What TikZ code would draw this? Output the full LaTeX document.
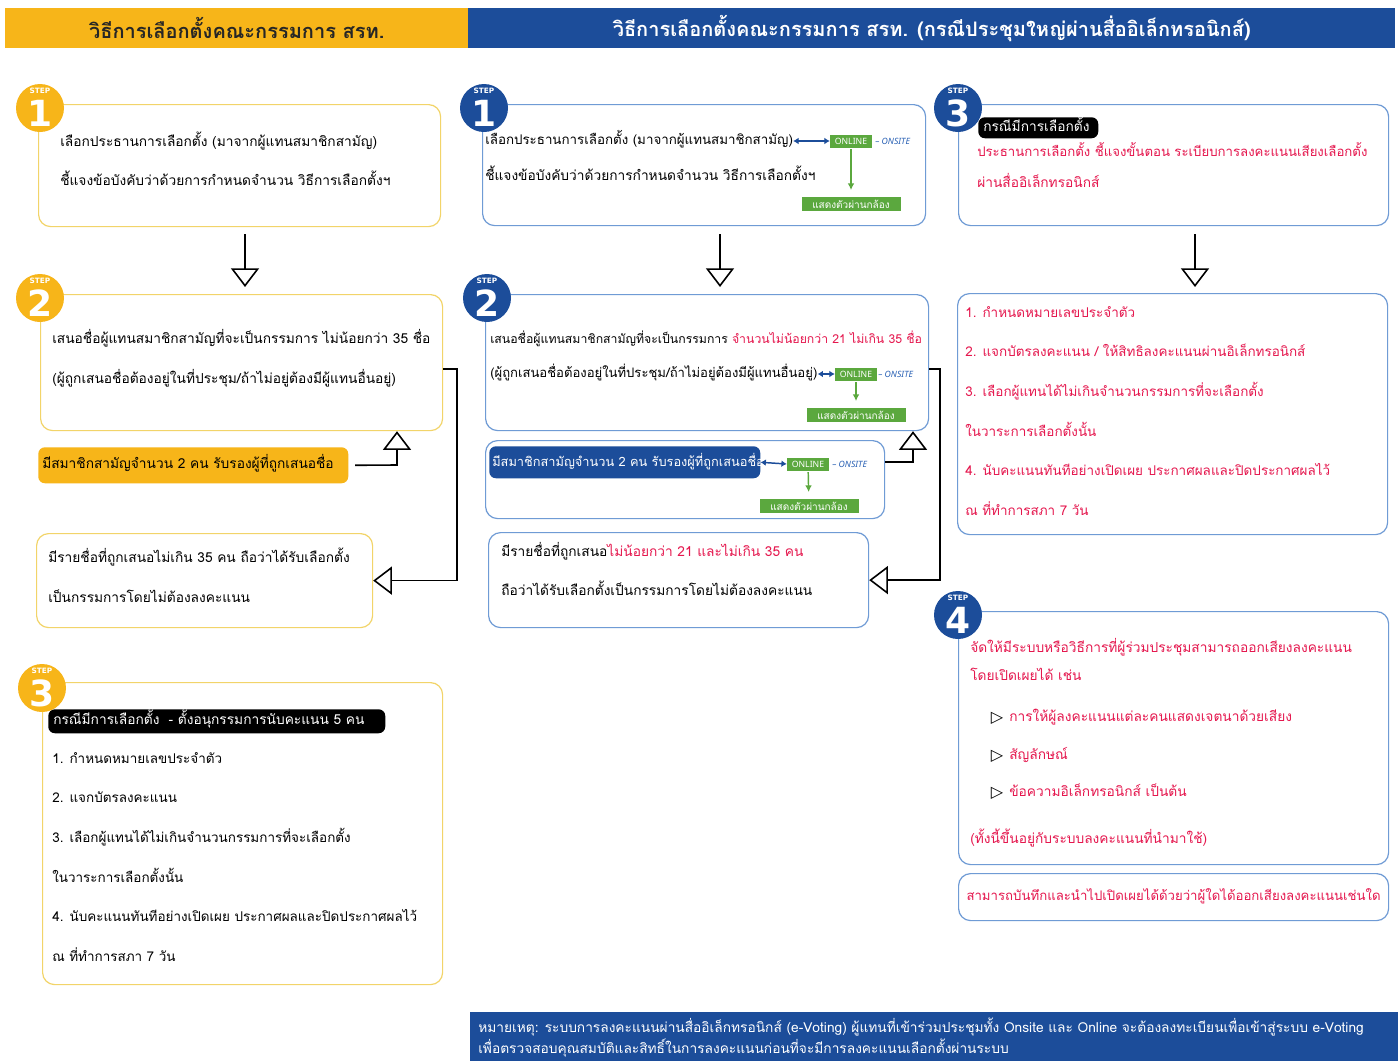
\documentclass[tikz,border=0pt]{standalone}
\usepackage{fontspec}
\usetikzlibrary{arrows.meta,positioning}
\newfontfamily\thai[Script=Thai]{Loma}
\newfontfamily\latn{Noto Sans}
\newfontfamily\symf{DejaVu Sans}

\definecolor{hdyellow}{HTML}{F7B519}
\definecolor{hdblue}{HTML}{1C4D9A}
\definecolor{lnyellow}{HTML}{F2D469}
\definecolor{lnblue}{HTML}{6F9BD5}
\definecolor{txred}{HTML}{E5174E}
\definecolor{okgreen}{HTML}{5BA83E}
\definecolor{siteblue}{HTML}{2B62B5}

\newcommand{\pxu}{0.75pt}
\newcommand{\redtx}[1]{{\color{txred}#1}}
\newcommand{\tsize}[1]{\thai\fontsize{#1}{12}\selectfont}

\tikzset{
  ybox/.style={draw=lnyellow, line width=0.9pt, rounded corners=9pt, anchor=north west, inner sep=0pt},
  bbox/.style={draw=lnblue, line width=0.9pt, rounded corners=9pt, anchor=north west, inner sep=0pt},
  bar/.style={fill=#1, rounded corners=5pt, anchor=north west, inner sep=0pt},
  stepdot/.style={circle, fill=#1, minimum size=48*\pxu, inner sep=0pt},
  steptag/.style={text=white, font=\symf\bfseries\fontsize{5.5}{6}\selectfont, inner sep=0pt},
  stepnum/.style={text=white, font=\symf\bfseries\fontsize{27}{28}\selectfont, inner sep=0pt},
  body/.style={anchor=west, inner sep=0pt, text height=8pt, text depth=3pt, font=\tsize{10.3}},
  redbody/.style={body, text=txred},
  hdtext/.style={inner sep=0pt, font=\thai\bfseries\fontsize{15}{16}\selectfont},
  flow/.style={line width=1.2pt, -{Triangle[open, length=14pt, width=21pt]}},
  bothway/.style={draw=hdblue, line width=1.1pt, {Latex[length=4pt,width=5pt]}-{Latex[length=4pt,width=5pt]}},
  godown/.style={draw=okgreen, line width=1.1pt, -{Latex[length=5pt,width=5pt]}, shorten >=5pt, shorten <=1pt},
  online/.style={fill=okgreen, text=white, font=\latn\fontsize{6.5}{7}\selectfont,
    minimum width=42*\pxu, minimum height=13*\pxu, inner sep=0pt},
  onsite/.style={anchor=west, text=siteblue, font=\latn\itshape\fontsize{6.5}{7}\selectfont, inner sep=0pt},
  cam/.style={fill=okgreen, text=white, font=\thai\fontsize{7.5}{8}\selectfont,
    minimum width=99*\pxu, minimum height=14*\pxu, inner sep=0pt},
}

\begin{document}
\begin{tikzpicture}[x=0.75pt, y=-0.75pt]
  \fill[white] (0,0) rectangle (1400,1061);
  \useasboundingbox (0,0) rectangle (1400,1061);

  % header
  \node[fill=hdyellow, anchor=north west, inner sep=0pt,
    minimum width=463*\pxu, minimum height=40*\pxu] (hdl) at (5,8) {};
  \node[fill=hdblue, anchor=north west, inner sep=0pt,
    minimum width=927*\pxu, minimum height=40*\pxu] (hdr) at (468,8) {};
  \node[hdtext, text=black!85] at (hdl.center) {วิธีการเลือกตั้งคณะกรรมการ สรท.};
  \node[hdtext, text=white] at (hdr.center) {วิธีการเลือกตั้งคณะกรรมการ สรท. (กรณีประชุมใหญ่ผ่านสื่ออิเล็กทรอนิกส์)};

  % left column
  \node[ybox, minimum width=402*\pxu, minimum height=122*\pxu] (l1) at (38,104) {};
  \node[body] (l1a) at (60,143) {เลือกประธานการเลือกตั้ง (มาจากผู้แทนสมาชิกสามัญ)};
  \node[body] (l1b) at (60,182) {ชี้แจงข้อบังคับว่าด้วยการกำหนดจำนวน วิธีการเลือกตั้งฯ};

  \node[ybox, minimum width=402*\pxu, minimum height=136*\pxu] (l2) at (40,294) {};
  \node[body] (l2a) at (52,340) {เสนอชื่อผู้แทนสมาชิกสามัญที่จะเป็นกรรมการ ไม่น้อยกว่า 35 ชื่อ};
  \node[body] (l2b) at (52,380) {(ผู้ถูกเสนอชื่อต้องอยู่ในที่ประชุม/ถ้าไม่อยู่ต้องมีผู้แทนอื่นอยู่)};

  \node[bar=hdyellow, minimum width=310*\pxu, minimum height=36*\pxu] (ylab) at (38,447) {};
  \node[body] (ylabt) at (42,465) {มีสมาชิกสามัญจำนวน 2 คน รับรองผู้ที่ถูกเสนอชื่อ};

  \node[ybox, minimum width=336*\pxu, minimum height=94*\pxu] (l3) at (36,533) {};
  \node[body] (l3a) at (48,559) {มีรายชื่อที่ถูกเสนอไม่เกิน 35 คน ถือว่าได้รับเลือกตั้ง};
  \node[body] (l3b) at (48,599) {เป็นกรรมการโดยไม่ต้องลงคะแนน};

  \node[ybox, minimum width=400*\pxu, minimum height=302*\pxu] (l4) at (42,682) {};
  \node[bar=black, minimum width=337*\pxu, minimum height=24*\pxu] (l4bar) at (48,709) {};
  \node[body, text=white] (l4bart) at (53,721) {กรณีมีการเลือกตั้ง\ \ - ตั้งอนุกรรมการนับคะแนน 5 คน};
  \foreach \txt [count=\i] in {1. กำหนดหมายเลขประจำตัว, 2. แจกบัตรลงคะแนน,
      3. เลือกผู้แทนได้ไม่เกินจำนวนกรรมการที่จะเลือกตั้ง, ในวาระการเลือกตั้งนั้น,
      4. นับคะแนนทันทีอย่างเปิดเผย ประกาศผลและปิดประกาศผลไว้, ณ ที่ทำการสภา 7 วัน}
    \node[body, font=\tsize{10.1}] (l4t\i) at (52,{760+(\i-1)*39.6}) {\txt};

  % middle column
  \node[bbox, minimum width=443*\pxu, minimum height=121*\pxu] (m1) at (482,104) {};
  \node[body, font=\tsize{10}] (m1a) at (485,141) {เลือกประธานการเลือกตั้ง (มาจากผู้แทนสมาชิกสามัญ)};
  \node[body] (m1b) at (485,177) {ชี้แจงข้อบังคับว่าด้วยการกำหนดจำนวน วิธีการเลือกตั้งฯ};
  \node[online] (m1on) at (851,141) {ONLINE};
  \node[onsite] (m1site) at (875,141) {– ONSITE};
  \node[cam] (m1cam) at (851,204) {แสดงตัวผ่านกล้อง};
  \draw[bothway] (m1a.east) -- (m1on.west);
  \draw[godown] (m1on) -- (m1cam);

  \node[bbox, minimum width=443*\pxu, minimum height=136*\pxu] (m2) at (485,294) {};
  \node[body, font=\tsize{9.2}] (m2a) at (490,340) {เสนอชื่อผู้แทนสมาชิกสามัญที่จะเป็นกรรมการ \redtx{จำนวนไม่น้อยกว่า 21 ไม่เกิน 35 ชื่อ}};
  \node[body, font=\tsize{9.8}] (m2b) at (490,374) {(ผู้ถูกเสนอชื่อต้องอยู่ในที่ประชุม/ถ้าไม่อยู่ต้องมีผู้แทนอื่นอยู่)};
  \node[online] (m2on) at (856,374) {ONLINE};
  \node[onsite] (m2site) at (878,374) {– ONSITE};
  \node[cam] (m2cam) at (856,415) {แสดงตัวผ่านกล้อง};
  \draw[bothway] (m2b.east) -- (m2on.west);
  \draw[godown] (m2on) -- (m2cam);

  \node[bbox, minimum width=399*\pxu, minimum height=78*\pxu] (m3) at (485,440) {};
  \node[bar=hdblue, minimum width=271*\pxu, minimum height=32*\pxu] (m3lab) at (489,446) {};
  \node[body, text=white, font=\tsize{9.6}] (m3labt) at (492,463) {มีสมาชิกสามัญจำนวน 2 คน รับรองผู้ที่ถูกเสนอชื่อ};
  \node[online] (m3on) at (808,464) {ONLINE};
  \node[onsite] (m3site) at (832,464) {– ONSITE};
  \node[cam] (m3cam) at (809,506) {แสดงตัวผ่านกล้อง};
  \draw[bothway] (m3lab.east) -- (m3on.west);
  \draw[godown] (m3on) -- (m3cam);

  \node[bbox, minimum width=380*\pxu, minimum height=95*\pxu] (m4) at (488,532) {};
  \node[body] (m4a) at (501,553) {มีรายชื่อที่ถูกเสนอ\redtx{ไม่น้อยกว่า 21 และไม่เกิน 35 คน}};
  \node[body] (m4b) at (501,592) {ถือว่าได้รับเลือกตั้งเป็นกรรมการโดยไม่ต้องลงคะแนน};

  % right column
  \node[bbox, minimum width=430*\pxu, minimum height=121*\pxu] (r1) at (958,104) {};
  \node[bar=black, minimum width=120*\pxu, minimum height=21*\pxu] (r1bar) at (978,117) {};
  \node[body, text=white] (r1bart) at (983,128) {กรณีมีการเลือกตั้ง};
  \node[redbody, font=\tsize{9.9}] (r1a) at (977,153) {ประธานการเลือกตั้ง ชี้แจงขั้นตอน ระเบียบการลงคะแนนเสียงเลือกตั้ง};
  \node[redbody] (r1b) at (977,184) {ผ่านสื่ออิเล็กทรอนิกส์};

  \node[bbox, minimum width=430*\pxu, minimum height=241*\pxu] (r2) at (957,293) {};
  \foreach \txt [count=\i] in {1. กำหนดหมายเลขประจำตัว, 2. แจกบัตรลงคะแนน / ให้สิทธิลงคะแนนผ่านอิเล็กทรอนิกส์,
      3. เลือกผู้แทนได้ไม่เกินจำนวนกรรมการที่จะเลือกตั้ง, ในวาระการเลือกตั้งนั้น,
      4. นับคะแนนทันทีอย่างเปิดเผย ประกาศผลและปิดประกาศผลไว้, ณ ที่ทำการสภา 7 วัน}
    \node[redbody, font=\tsize{10.1}] (r2t\i) at (965,{314+(\i-1)*39.6}) {\txt};

  \node[bbox, minimum width=430*\pxu, minimum height=253*\pxu] (r3) at (958,611) {};
  \node[redbody] (r3a) at (970,649) {จัดให้มีระบบหรือวิธีการที่ผู้ร่วมประชุมสามารถออกเสียงลงคะแนน};
  \node[redbody] (r3b) at (970,677) {โดยเปิดเผยได้ เช่น};
  \foreach \txt/\yy [count=\i] in {การให้ผู้ลงคะแนนแต่ละคนแสดงเจตนาด้วยเสียง/718,
      สัญลักษณ์/756, ข้อความอิเล็กทรอนิกส์ เป็นต้น/793}
  {
    \node[inner sep=0pt, font=\symf\fontsize{12}{12}\selectfont] (r3p\i) at (997,\yy) {▷};
    \node[redbody] (r3t\i) at (1009,\yy) {\txt};
  }
  \node[redbody] (r3c) at (970,840) {(ทั้งนี้ขึ้นอยู่กับระบบลงคะแนนที่นำมาใช้)};

  \node[bbox, minimum width=430*\pxu, minimum height=47*\pxu] (r4) at (958,873) {};
  \node[redbody, anchor=center, font=\tsize{9.9}] (r4t) at (r4.center) {สามารถบันทึกและนำไปเปิดเผยได้ด้วยว่าผู้ใดได้ออกเสียงลงคะแนนเช่นใด};

  % step badges
  \node[stepdot=hdyellow] (sl1) at (40,108) {};
  \node[stepdot=hdyellow] (sl2) at (40,298) {};
  \node[stepdot=hdyellow] (sl3) at (42,688) {};
  \node[stepdot=hdblue] (sm1) at (484,108) {};
  \node[stepdot=hdblue] (sm2) at (487,298) {};
  \node[stepdot=hdblue] (sr3) at (958,108) {};
  \node[stepdot=hdblue] (sr4) at (958,615) {};
  \foreach \s/\n in {sl1/1, sl2/2, sl3/3, sm1/1, sm2/2, sr3/3, sr4/4}
  {
    \node[steptag] at ([yshift=13pt]\s.center) {STEP};
    \node[stepnum] at ([yshift=-4pt]\s.center) {\n};
  }

  % connectors
  \coordinate (dl1) at (245,234);
  \coordinate (dl2) at (245,287);
  \coordinate (dm1) at (720,234);
  \coordinate (dm2) at (720,287);
  \coordinate (dr1) at (1195,234);
  \coordinate (dr2) at (1195,287);
  \draw[flow] (dl1) -- (dl2);
  \draw[flow] (dm1) -- (dm2);
  \draw[flow] (dr1) -- (dr2);

  \coordinate (ly) at (397,465);
  \draw[flow] ([xshift=5pt]ylab.east) -- (ly) -- (ly |- l2.south);
  \coordinate (lr) at (457,369);
  \draw[flow] (l2.east |- lr) -- (lr) |- (l3.east);

  \coordinate (my) at (913,462);
  \draw[flow] (m3.east |- my) -- (my) -- (my |- m2.south);
  \coordinate (mr) at (940,369);
  \draw[flow] (m2.east |- mr) -- (mr) |- (m4.east);

  % footer
  \node[fill=hdblue, anchor=north west, inner sep=0pt,
    minimum width=928*\pxu, minimum height=49*\pxu] (foot) at (470,1012) {};
  \node[body, text=white, font=\tsize{10.3}] (foota) at (478,1029)
    {หมายเหตุ: ระบบการลงคะแนนผ่านสื่ออิเล็กทรอนิกส์ (e-Voting) ผู้แทนที่เข้าร่วมประชุมทั้ง Onsite และ Online จะต้องลงทะเบียนเพื่อเข้าสู่ระบบ e-Voting};
  \node[body, text=white, font=\tsize{10.3}] (footb) at (478,1050)
    {เพื่อตรวจสอบคุณสมบัติและสิทธิ์ในการลงคะแนนก่อนที่จะมีการลงคะแนนเลือกตั้งผ่านระบบ};
\end{tikzpicture}
\end{document}
